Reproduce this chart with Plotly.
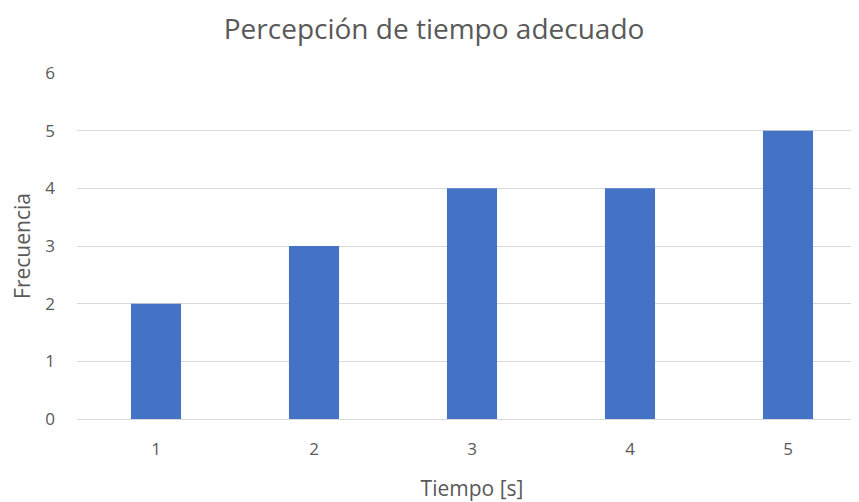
import plotly.graph_objects as go

tiempo = ["1", "2", "3", "4", "5"]
frecuencia = [2, 3, 4, 4, 5]
y_ticks = [0, 1, 2, 3, 4, 5, 6]

text_color = "#595959"
grid_color = "#d9d9d9"

fig = go.Figure()
fig.add_trace(go.Bar(x=tiempo, y=frecuencia, marker=dict(color="#4472C4", line=dict(width=0)),
                     width=0.317, showlegend=False))

# the page body adds an 8px offset, so margins are reduced by that amount
fig.update_layout(
    width=859, height=502,
    margin=dict(l=69, r=0, t=65, b=91),
    paper_bgcolor="white", plot_bgcolor="white",
    font=dict(family="Open Sans", color=text_color, size=17),
    title=dict(text="Percepción de tiempo adecuado", x=0.496, xanchor="center", y=0.957, yanchor="middle",
               font=dict(size=28, color=text_color)),
)
fig.update_xaxes(type="category", range=[-0.5, 4.5], showgrid=False, showline=False, zeroline=False,
                 ticks="", ticklabelstandoff=18, automargin=False, tickfont=dict(size=17),
                 title=dict(text="Tiempo [s]", font=dict(size=21, color=text_color), standoff=22))
fig.update_yaxes(range=[0, 6.001], tickvals=y_ticks, showgrid=True, gridcolor=grid_color, gridwidth=1,
                 zeroline=True, zerolinecolor=grid_color, zerolinewidth=1, showline=False, ticks="",
                 ticklabelstandoff=21, automargin=False, tickfont=dict(size=17),
                 title=dict(text="Frecuencia", font=dict(size=21, color=text_color), standoff=10))

fig.write_html("out.html")
